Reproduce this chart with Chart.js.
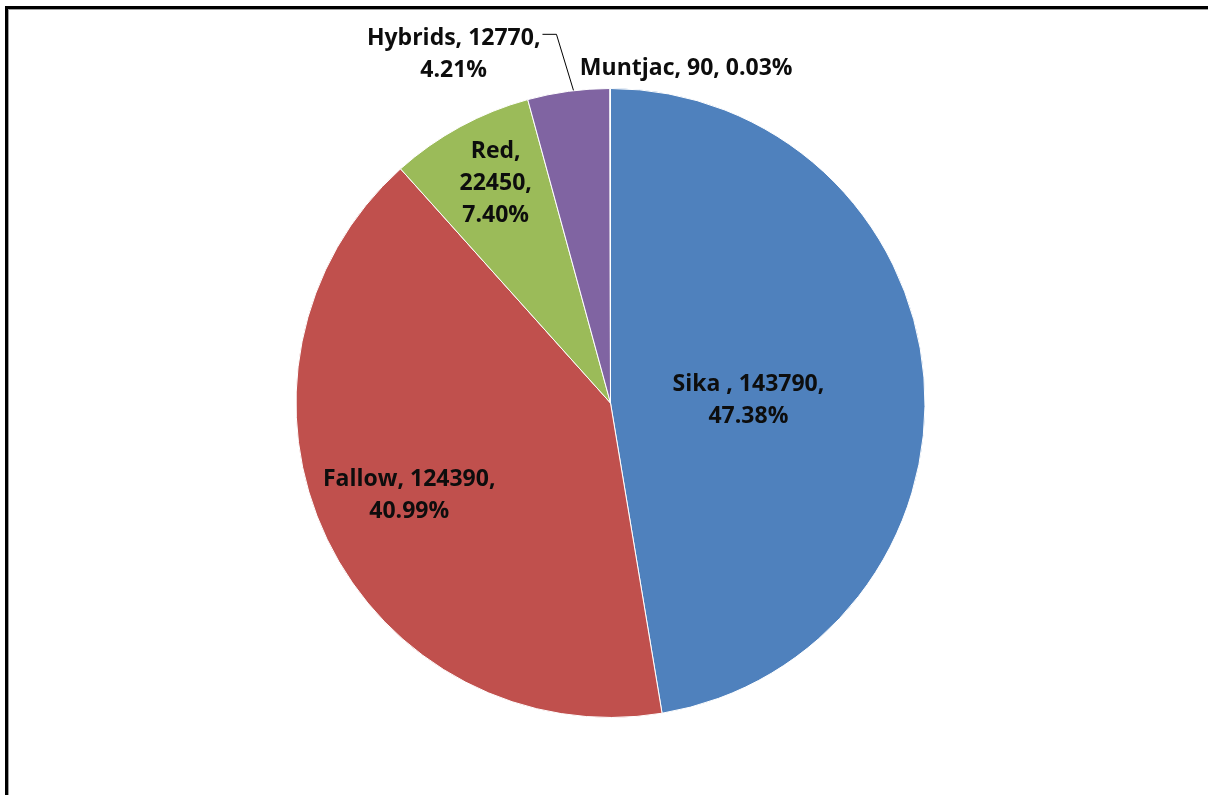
<!DOCTYPE html>
<html>
<head>
<meta charset="utf-8">
<script src="https://cdn.jsdelivr.net/npm/chart.js@4/dist/chart.umd.min.js"></script>
<style>
  html, body { margin: 0; padding: 0; background: #fff; overflow: hidden; }
  #wrap { position: absolute; left: 0; top: 0; width: 1208px; height: 795px; overflow: hidden; }
  #frame {
    position: absolute; left: 5px; top: 6px; width: 1300px; height: 900px;
    border-top: 3px solid #000; border-left: 3px solid #000;
    box-shadow: inset 1px 1px 0 #a0a0a0;
    pointer-events: none;
  }
  canvas { position: absolute; left: 0; top: 0; }
</style>
</head>
<body>
<div id="wrap">
  <canvas id="c" width="1208" height="795"></canvas>
  <div id="frame"></div>
</div>
<script>
// Deer species counts
const species = ['Sika', 'Fallow', 'Red', 'Hybrids', 'Muntjac'];
const counts = [143790, 124390, 22450, 12770, 90];
const percents = ['47.38%', '40.99%', '7.40%', '4.21%', '0.03%'];
const colors = ['#4F81BD', '#C0504D', '#9BBB59', '#8064A2', '#4BACC6'];

// Text lines of each data label
const labelLines = [
  [species[0] + ' , ' + counts[0] + ',', percents[0]],
  [species[1] + ', ' + counts[1] + ',', percents[1]],
  [species[2] + ',', counts[2] + ',', percents[2]],
  [species[3] + ', ' + counts[3] + ',', percents[3]],
  [species[4] + ', ' + counts[4] + ', ' + percents[4]]
];

// Label placement: inside slices use a radial fraction; outside ones sit off the rim
const placement = [
  { mode: 'inside', r: 0.44, dy: 9, dx: 0 },
  { mode: 'inside', r: 0.71, dy: -4, dx: 0 },
  { mode: 'inside', r: 0.79, dy: -1, dx: 4 },
  { mode: 'leader', elbowDx: -12, elbowDy: -57, tail: 14 },
  { mode: 'outside', dx: 76, dy: -20 }
];

const FONT = 'bold 23px "Open Sans", Lato, sans-serif';
const LINE_H = 32;

const pieLabels = {
  id: 'pieLabels',
  afterDatasetsDraw(chart) {
    const ctx = chart.ctx;
    const arcs = chart.getDatasetMeta(0).data;
    ctx.save();
    ctx.font = FONT;
    ctx.fillStyle = '#0d0d0d';
    ctx.textBaseline = 'middle';
    ctx.textAlign = 'center';
    arcs.forEach((arc, i) => {
      const p = arc.getProps(['x', 'y', 'startAngle', 'endAngle', 'outerRadius'], true);
      const mid = (p.startAngle + p.endAngle) / 2;
      const lines = labelLines[i];
      const pl = placement[i];
      const edgeX = p.x + Math.cos(mid) * p.outerRadius;
      const edgeY = p.y + Math.sin(mid) * p.outerRadius;
      if (pl.mode === 'inside') {
        const cx = p.x + Math.cos(mid) * p.outerRadius * pl.r + pl.dx;
        const cy = p.y + Math.sin(mid) * p.outerRadius * pl.r + pl.dy;
        const y0 = cy - (lines.length - 1) * LINE_H / 2;
        lines.forEach((t, k) => ctx.fillText(t, cx, y0 + k * LINE_H));
      } else if (pl.mode === 'leader') {
        const ex = edgeX + pl.elbowDx, ey = edgeY + pl.elbowDy;
        const tx = ex - pl.tail;
        ctx.strokeStyle = '#000';
        ctx.lineWidth = 1;
        ctx.beginPath();
        ctx.moveTo(edgeX + 5, edgeY - 1);
        ctx.lineTo(ex, ey);
        ctx.lineTo(tx, ey);
        ctx.stroke();
        const w = Math.max(...lines.map(t => ctx.measureText(t).width));
        const cx = tx - 2 - w / 2;
        lines.forEach((t, k) => ctx.fillText(t, cx, ey + 4 + k * LINE_H));
      } else {
        const cx = edgeX + pl.dx, cy = edgeY + pl.dy;
        lines.forEach((t, k) => ctx.fillText(t, cx, cy + k * LINE_H));
      }
    });
    ctx.restore();
  }
};

new Chart(document.getElementById('c'), {
  type: 'pie',
  data: {
    labels: species,
    datasets: [{
      data: counts,
      backgroundColor: colors,
      borderColor: '#ffffff',
      borderWidth: 1
    }]
  },
  options: {
    responsive: false,
    animation: false,
    layout: { padding: { top: 88, bottom: 77, left: 295, right: 282 } },
    plugins: {
      legend: { display: false },
      tooltip: { enabled: false }
    }
  },
  plugins: [pieLabels]
});
</script>
</body>
</html>
